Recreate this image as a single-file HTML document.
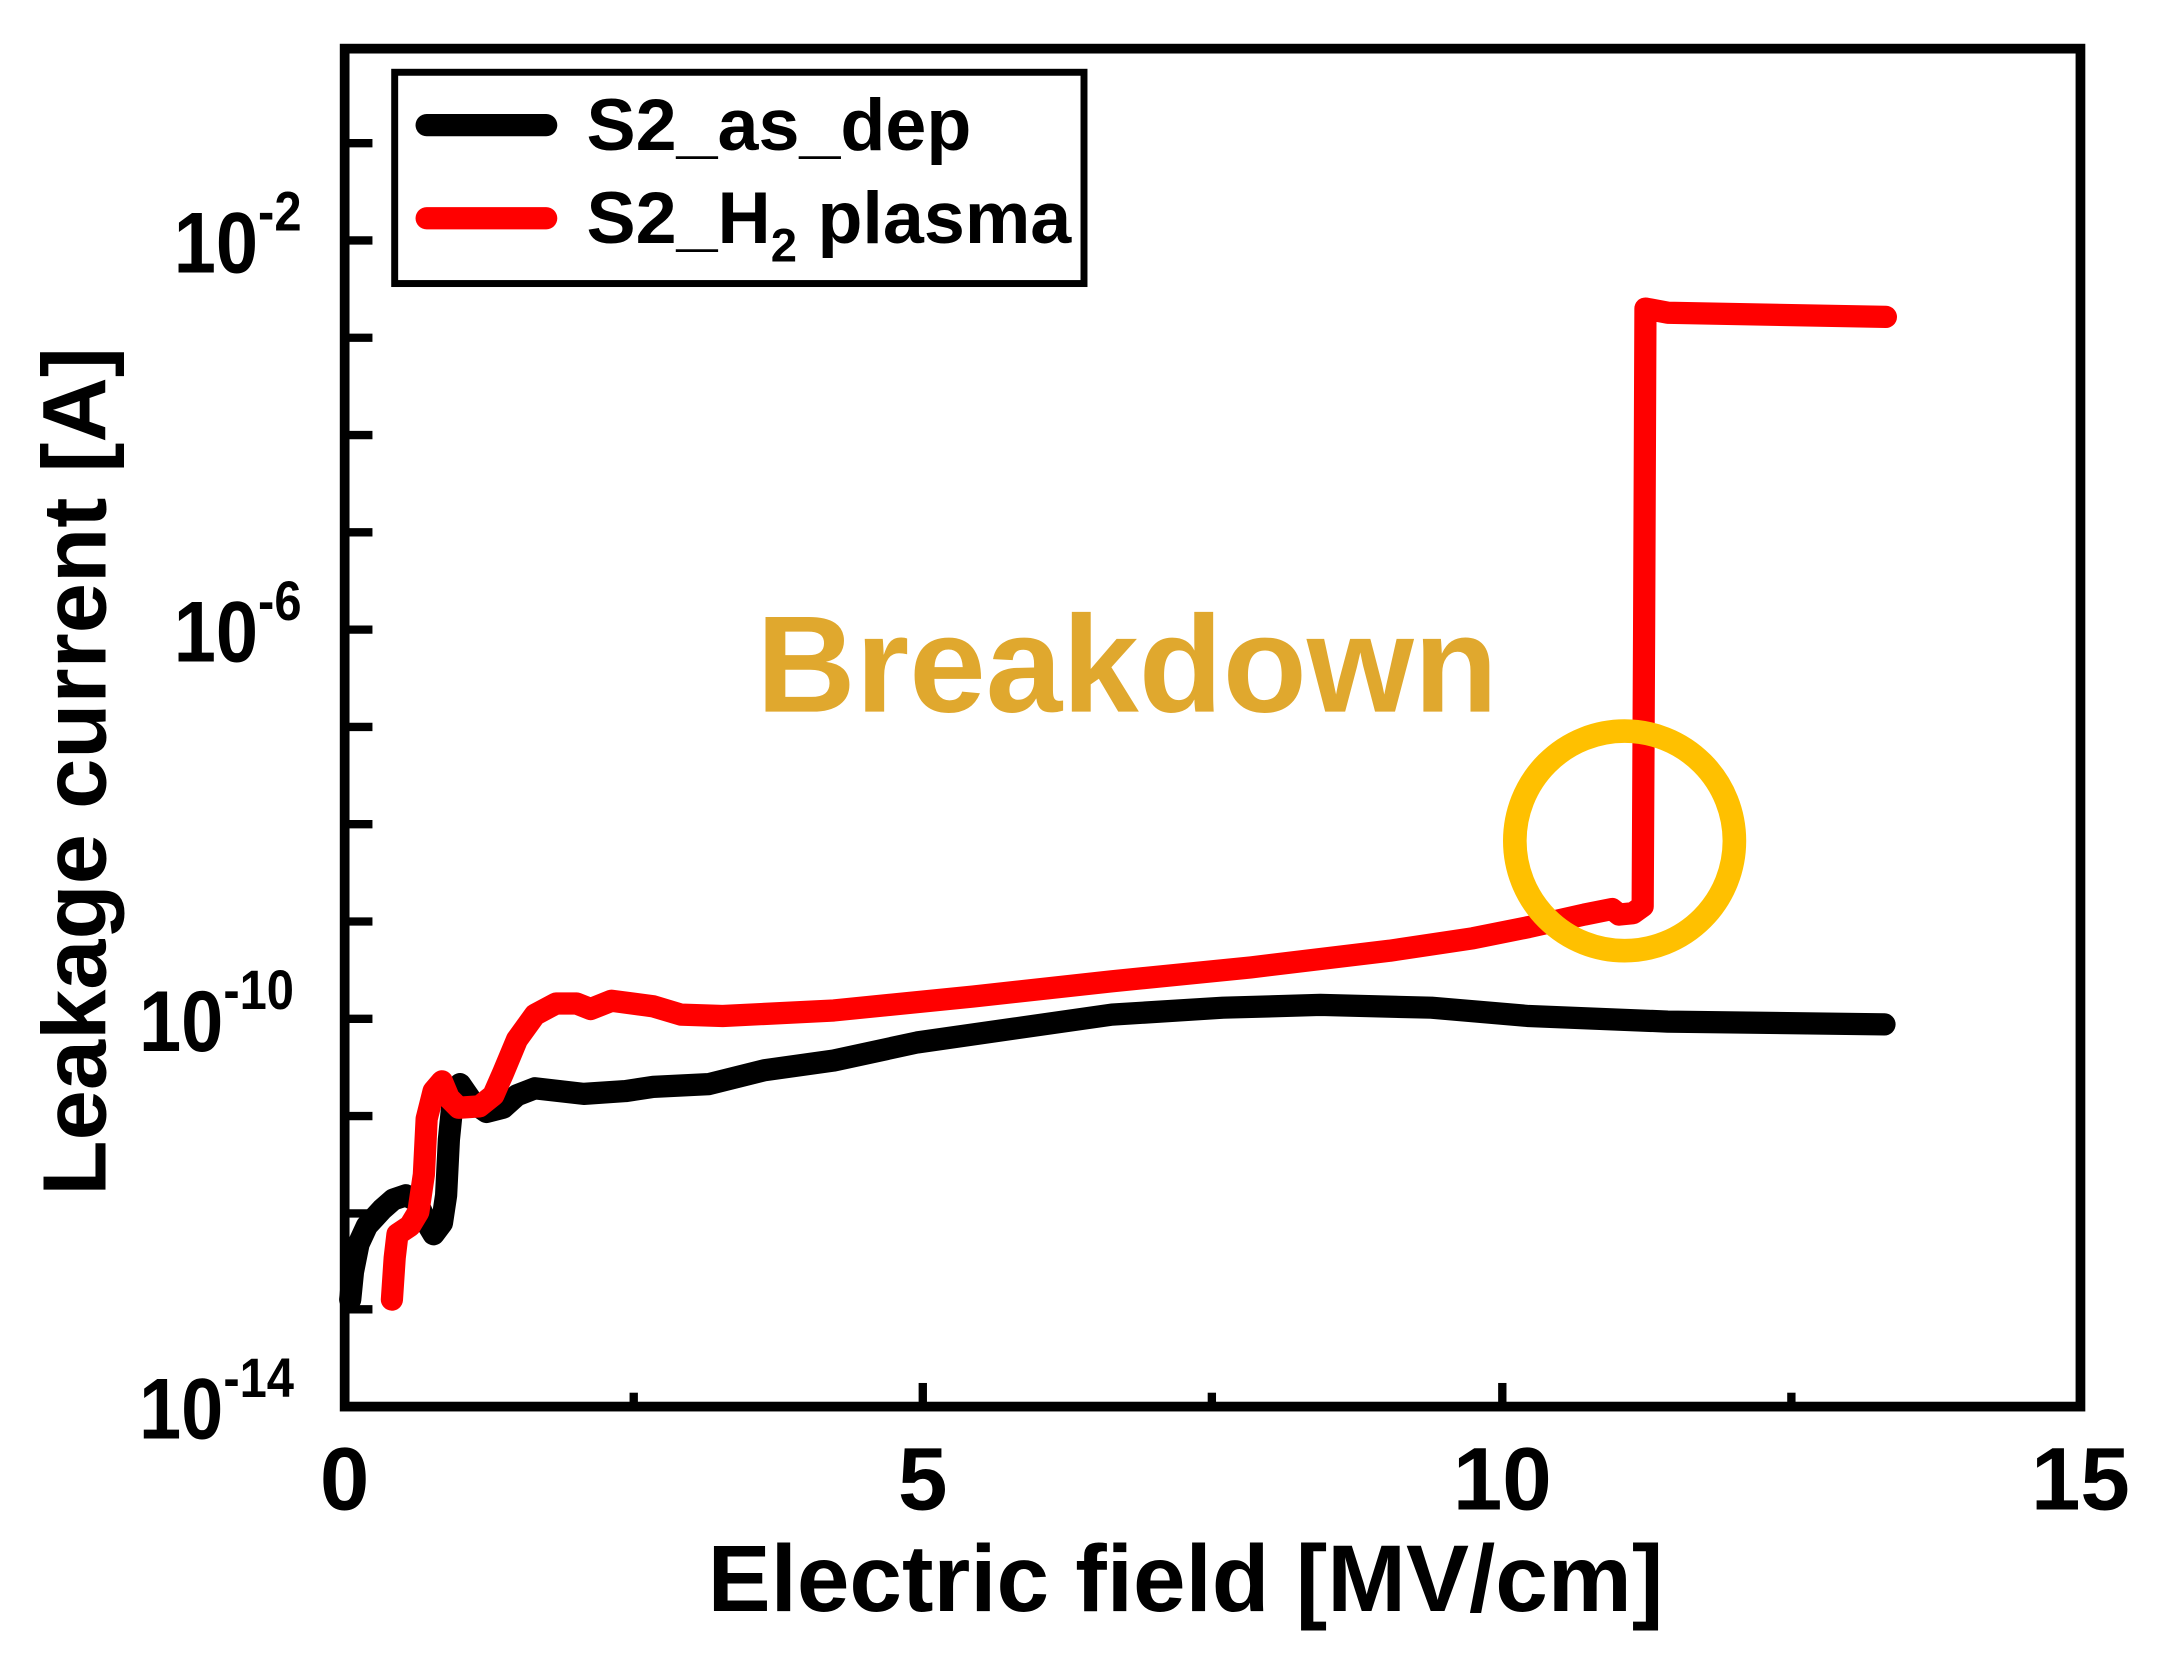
<!DOCTYPE html>
<html><head><meta charset="utf-8"><style>html,body{margin:0;padding:0;background:#fff}svg{display:block}</style></head>
<body>
<svg width="2168" height="1654" viewBox="0 0 1560 1190" preserveAspectRatio="none" xmlns="http://www.w3.org/2000/svg" font-family="Liberation Sans, Arial, sans-serif" font-weight="bold">
<rect x="0" y="0" width="1560" height="1190" fill="#fff"/>
<g stroke="#000" stroke-width="6">
<line x1="248" y1="942" x2="268" y2="942"/><line x1="248" y1="873" x2="268" y2="873"/>
<line x1="248" y1="803" x2="268" y2="803"/><line x1="248" y1="733" x2="268" y2="733"/>
<line x1="248" y1="663" x2="268" y2="663"/><line x1="248" y1="593" x2="268" y2="593"/>
<line x1="248" y1="523" x2="268" y2="523"/><line x1="248" y1="453" x2="268" y2="453"/>
<line x1="248" y1="383" x2="268" y2="383"/><line x1="248" y1="313" x2="268" y2="313"/>
<line x1="248" y1="243" x2="268" y2="243"/><line x1="248" y1="173" x2="268" y2="173"/>
<line x1="248" y1="103" x2="268" y2="103"/>
<line x1="456" y1="1012" x2="456" y2="1002"/><line x1="664" y1="1012" x2="664" y2="995"/>
<line x1="872" y1="1012" x2="872" y2="1002"/><line x1="1081" y1="1012" x2="1081" y2="995"/>
<line x1="1289" y1="1012" x2="1289" y2="1002"/>
</g>
<polyline fill="none" stroke="#000" stroke-width="16" stroke-linejoin="round" stroke-linecap="round" points="252,935 254,915 258,895 264,882 275,870 283,863 292,860 300,864 306,878 312,888 318,880 321,860 323,820 326,790 331,780 340,793 350,800 362,797 372,788 385,783 420,787 450,785 470,782 510,780 550,770 600,763 660,750 730,740 800,730 880,725 950,723 1030,725 1100,731 1200,735 1356,737"/>
<polyline fill="none" stroke="#ff0000" stroke-width="16" stroke-linejoin="round" stroke-linecap="round" points="282,935 284,905 286,888 295,882 301,872 305,845 307,805 312,785 318,778 323,790 330,797 345,796 355,788 362,772 372,748 385,730 400,722 415,722 425,726 440,720 470,724 490,730 520,731 600,727 700,717 800,706 900,696 1000,684 1060,675 1100,667 1140,658 1160,654 1165,658 1175,657 1182,652 1183,460 1184,222 1200,225 1357,228"/>
<rect x="248" y="35" width="1249" height="977" fill="none" stroke="#000" stroke-width="7"/>
<circle cx="1169" cy="605" r="79" fill="none" stroke="#FFC000" stroke-width="17"/>
<text x="811" y="512" font-size="99" fill="#E0A82E" text-anchor="middle">Breakdown</text>
<rect x="284" y="52" width="496" height="152" fill="#fff" stroke="#000" stroke-width="5"/>
<line x1="307" y1="90" x2="393" y2="90" stroke="#000" stroke-width="16" stroke-linecap="round"/>
<line x1="307" y1="157" x2="393" y2="157" stroke="#ff0000" stroke-width="16" stroke-linecap="round"/>
<text x="422" y="108" font-size="53">S2_as_dep</text>
<text x="422" y="175" font-size="53">S2_H<tspan font-size="34" dy="13">2</tspan><tspan dy="-13"> plasma</tspan></text>
<g font-size="62">
<text transform="translate(100,1035) scale(0.88,1)">10<tspan font-size="40" dy="-30">-14</tspan></text>
<text transform="translate(100,756) scale(0.88,1)">10<tspan font-size="40" dy="-30">-10</tspan></text>
<text transform="translate(125,476) scale(0.88,1)">10<tspan font-size="40" dy="-30">-6</tspan></text>
<text transform="translate(125,196) scale(0.88,1)">10<tspan font-size="40" dy="-30">-2</tspan></text>
</g>
<g font-size="64" text-anchor="middle">
<text x="248" y="1086">0</text><text x="664" y="1086">5</text>
<text x="1081" y="1086">10</text><text x="1497" y="1086">15</text>
</g>
<text x="853" y="1159" font-size="68" text-anchor="middle">Electric field [MV/cm]</text>
<text transform="translate(76,555) rotate(-90)" font-size="65" text-anchor="middle">Leakage current [A]</text>
</svg>
</body></html>
